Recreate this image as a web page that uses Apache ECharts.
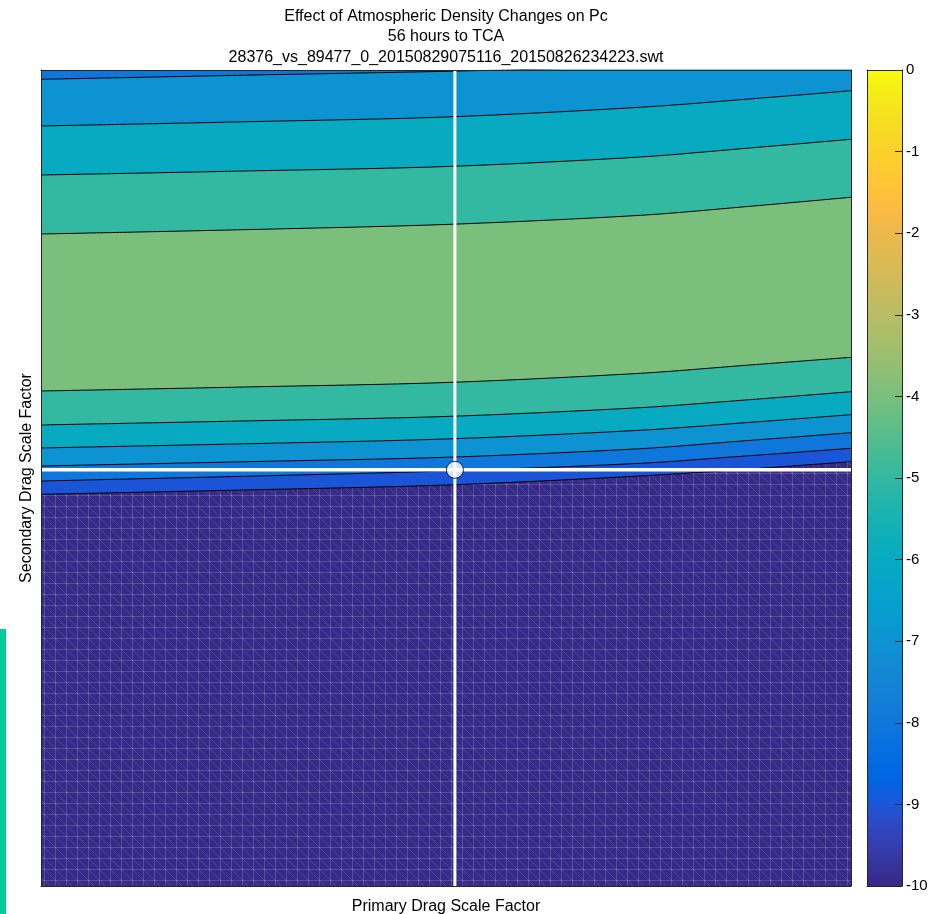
<!DOCTYPE html>
<html>
<head>
<meta charset="utf-8">
<script src="https://cdn.jsdelivr.net/npm/echarts@6/dist/echarts.min.js"></script>
<style>
html,body{margin:0;padding:0;background:#fff;}
#chart{width:931px;height:914px;}
</style>
</head>
<body>
<div id="chart"></div>
<script>
// ---------------- DATA ----------------
const titleLines = ['Effect of Atmospheric Density Changes on Pc', '56 hours to TCA', '28376_vs_89477_0_20150829075116_20150826234223.swt'];
const xAxisName = 'Primary Drag Scale Factor';
const yAxisName = 'Secondary Drag Scale Factor';

// sample positions along the primary axis (percent of axis range)
const xSamples = [0, 25, 50, 74, 87, 100];

// contour lines (secondary axis position, percent of range), ordered top to bottom
const contourLevels = [-7, -6, -5, -4, -4, -5, -6, -7, -8, -9];
const line1  = [98.86, 99.36, 99.84, 100.43, 100.86, 101.35];
const line2  = [93.14, 93.65, 94.24, 95.43, 96.41, 97.46];
const line3  = [87.13, 87.62, 88.17, 89.34, 90.40, 91.51];
const line4  = [79.90, 80.43, 81.07, 82.19, 83.25, 84.40];
const line5  = [60.66, 61.15, 61.70, 62.83, 63.81, 64.79];
const line6  = [56.50, 56.99, 57.54, 58.62, 59.56, 60.58];
const line7  = [53.68, 54.19, 54.78, 55.85, 56.78, 57.76];
const line8  = [51.47, 51.99, 52.54, 53.59, 54.57, 55.55];
const line9  = [49.63, 50.21, 50.86, 51.80, 52.70, 53.64];
const line10 = [48.00, 48.53, 49.14, 50.25, 51.07, 52.00];
const contourLines = [line1, line2, line3, line4, line5, line6, line7, line8, line9, line10];
// fill level of the band just below each contour line, and of the region above the first line
const bandBelowLevels = [-7, -6, -5, -4, -5, -6, -7, -8, -9, -10];
const topBandLevel = -8;

// nominal point (crosshair)
const nominalX = 51.1;
const nominalY = 51.0;

// colorbar
const cbMin = -10;
const cbMax = 0;

// ---------------- STYLE ----------------
const parula = [
[0.2081,0.1663,0.5292],[0.2116,0.1898,0.5777],[0.2123,0.2138,0.6270],[0.2081,0.2386,0.6771],
[0.1959,0.2645,0.7279],[0.1707,0.2919,0.7792],[0.1253,0.3242,0.8303],[0.0591,0.3598,0.8683],
[0.0117,0.3875,0.8820],[0.0060,0.4086,0.8828],[0.0165,0.4266,0.8786],[0.0329,0.4430,0.8720],
[0.0498,0.4586,0.8641],[0.0629,0.4737,0.8554],[0.0723,0.4887,0.8467],[0.0779,0.5040,0.8384],
[0.0793,0.5200,0.8312],[0.0749,0.5375,0.8263],[0.0641,0.5570,0.8240],[0.0488,0.5772,0.8228],
[0.0343,0.5966,0.8199],[0.0265,0.6137,0.8135],[0.0239,0.6287,0.8038],[0.0231,0.6418,0.7913],
[0.0228,0.6535,0.7768],[0.0267,0.6642,0.7607],[0.0384,0.6743,0.7436],[0.0590,0.6838,0.7254],
[0.0843,0.6928,0.7062],[0.1133,0.7015,0.6859],[0.1453,0.7098,0.6646],[0.1801,0.7177,0.6424],
[0.2178,0.7250,0.6193],[0.2586,0.7317,0.5954],[0.3022,0.7376,0.5712],[0.3482,0.7424,0.5473],
[0.3953,0.7459,0.5244],[0.4420,0.7481,0.5033],[0.4871,0.7491,0.4840],[0.5300,0.7491,0.4661],
[0.5709,0.7485,0.4494],[0.6099,0.7473,0.4337],[0.6473,0.7456,0.4188],[0.6834,0.7435,0.4044],
[0.7184,0.7411,0.3905],[0.7525,0.7384,0.3768],[0.7858,0.7356,0.3633],[0.8185,0.7327,0.3498],
[0.8507,0.7299,0.3360],[0.8824,0.7274,0.3217],[0.9139,0.7258,0.3063],[0.9450,0.7261,0.2886],
[0.9739,0.7314,0.2666],[0.9938,0.7455,0.2403],[0.9990,0.7653,0.2164],[0.9955,0.7861,0.1967],
[0.9880,0.8066,0.1794],[0.9789,0.8271,0.1633],[0.9697,0.8481,0.1475],[0.9626,0.8705,0.1309],
[0.9589,0.8949,0.1132],[0.9598,0.9218,0.0948],[0.9661,0.9514,0.0755],[0.9763,0.9831,0.0538]
];
function toHex(c){
  return '#' + c.map(v => Math.round(Math.max(0,Math.min(1,v))*255).toString(16).padStart(2,'0')).join('');
}
function parulaAt(t){
  t = Math.max(0, Math.min(1, t));
  const f = t * (parula.length - 1);
  const i = Math.floor(f), j = Math.min(parula.length - 1, i + 1), a = f - i;
  return toHex(parula[i].map((v,k) => v + (parula[j][k]-v)*a));
}
function levelColor(v){ return parulaAt((v - cbMin) / (cbMax - cbMin)); }

// faint triangular mesh texture (rendering artefact of the original surface)
function meshPattern(base){
  const c = document.createElement('canvas');
  const s = 11;
  c.width = s; c.height = s;
  const g = c.getContext('2d');
  g.fillStyle = base; g.fillRect(0, 0, s, s);
  g.strokeStyle = 'rgba(255,255,255,0.17)'; g.lineWidth = 1;
  g.beginPath();
  g.moveTo(0.5, 0); g.lineTo(0.5, s);
  g.moveTo(0, 0.5); g.lineTo(s, 0.5);
  g.stroke();
  g.strokeStyle = 'rgba(255,255,255,0.12)';
  g.beginPath(); g.moveTo(0, 0); g.lineTo(s, s); g.stroke();
  return {image: c, repeat: 'repeat'};
}

const FONT = 'Liberation Sans, Arial, Helvetica, sans-serif';
const AX = '#262626';
const plotGrid = {left: 41, top: 70, width: 810, height: 816};
const cbGrid = {left: 867, top: 70, width: 35, height: 816};

function frameAxis(extra){
  return Object.assign({
    type: 'value', z: 10,
    axisLine: {show: true, onZero: false, lineStyle: {color: AX, width: 1}},
    axisTick: {show: false}, axisLabel: {show: false}, splitLine: {show: false}
  }, extra);
}

// ---------------- SERIES ----------------
const series = [];
contourLines.forEach((ln, i) => {
  const lvl = bandBelowLevels[i];
  series.push({
    type: 'line', xAxisIndex: 0, yAxisIndex: 0,
    data: xSamples.map((x, k) => [x, ln[k]]),
    smooth: 0.3, symbol: 'none', clip: true, z: 2,
    lineStyle: {color: '#000', width: 1},
    areaStyle: {color: lvl === cbMin ? meshPattern(levelColor(lvl)) : levelColor(lvl), opacity: 1, origin: 'start'},
    silent: true, animation: false
  });
});
// crosshair
series.push({
  type: 'line', xAxisIndex: 0, yAxisIndex: 0, z: 5, symbol: 'none', animation: false, silent: true,
  data: [[nominalX, 0], [nominalX, 100]],
  lineStyle: {color: '#fff', width: 3}
});
series.push({
  type: 'line', xAxisIndex: 0, yAxisIndex: 0, z: 5, symbol: 'none', animation: false, silent: true,
  data: [[0, nominalY], [100, nominalY]],
  lineStyle: {color: '#fff', width: 3.5}
});
series.push({
  type: 'scatter', xAxisIndex: 0, yAxisIndex: 0, z: 6, animation: false, silent: true,
  data: [[nominalX, nominalY]], symbol: 'circle', symbolSize: 17,
  itemStyle: {color: '#fff', borderColor: '#000', borderWidth: 1}
});
// colorbar
const cbStops = [];
for (let k = 0; k <= 64; k++) {
  cbStops.push({offset: k / 64, color: parulaAt(1 - k / 64)});
}
series.push({
  type: 'custom', xAxisIndex: 2, yAxisIndex: 2, z: 2, animation: false, silent: true,
  data: [[0, 1, cbMax, cbMin]],
  renderItem: function(params, api){
    const p0 = api.coord([api.value(0), api.value(2)]);
    const p1 = api.coord([api.value(1), api.value(3)]);
    return {
      type: 'rect',
      shape: {x: p0[0], y: p0[1], width: p1[0]-p0[0], height: p1[1]-p0[1]},
      style: {fill: new echarts.graphic.LinearGradient(0, 0, 0, 1, cbStops)}
    };
  }
});

const option = {
  backgroundColor: '#ffffff',
  animation: false,
  title: {
    text: titleLines.join('\n'),
    left: 441, top: 1, textAlign: 'center',
    textStyle: {fontFamily: FONT, fontSize: 16, fontWeight: 'normal', color: '#000', lineHeight: 20.5}
  },
  grid: [
    Object.assign({show: true, backgroundColor: levelColor(topBandLevel), borderWidth: 0, outerBoundsMode: 'none', containLabel: false}, plotGrid),
    Object.assign({show: false, outerBoundsMode: 'none', containLabel: false}, cbGrid)
  ],
  xAxis: [
    frameAxis({gridIndex: 0, min: 0, max: 100, position: 'bottom',
      name: xAxisName, nameLocation: 'middle', nameGap: 13,
      nameTextStyle: {fontFamily: FONT, fontSize: 16, color: '#000'}}),
    frameAxis({gridIndex: 0, min: 0, max: 100, position: 'top'}),
    frameAxis({gridIndex: 1, min: 0, max: 1, position: 'bottom'}),
    frameAxis({gridIndex: 1, min: 0, max: 1, position: 'top'})
  ],
  yAxis: [
    frameAxis({gridIndex: 0, min: 0, max: 100, position: 'left',
      name: yAxisName, nameLocation: 'middle', nameGap: 6,
      nameTextStyle: {fontFamily: FONT, fontSize: 16, color: '#000'}}),
    frameAxis({gridIndex: 0, min: 0, max: 100, position: 'right'}),
    frameAxis({gridIndex: 1, min: cbMin, max: cbMax, interval: 1, position: 'right',
      axisTick: {show: true, inside: true, length: 7, lineStyle: {color: AX}},
      axisLabel: {show: true, margin: 4, fontFamily: FONT, fontSize: 15, color: '#000'}}),
    frameAxis({gridIndex: 1, min: cbMin, max: cbMax, position: 'left'})
  ],
  graphic: [
    {type: 'rect', left: 0, top: 629, shape: {width: 6, height: 285}, style: {fill: '#00cc99'}, silent: true}
  ],
  series: series
};

const chart = echarts.init(document.getElementById('chart'), null, {renderer: 'canvas'});
chart.setOption(option);
</script>
</body>
</html>
